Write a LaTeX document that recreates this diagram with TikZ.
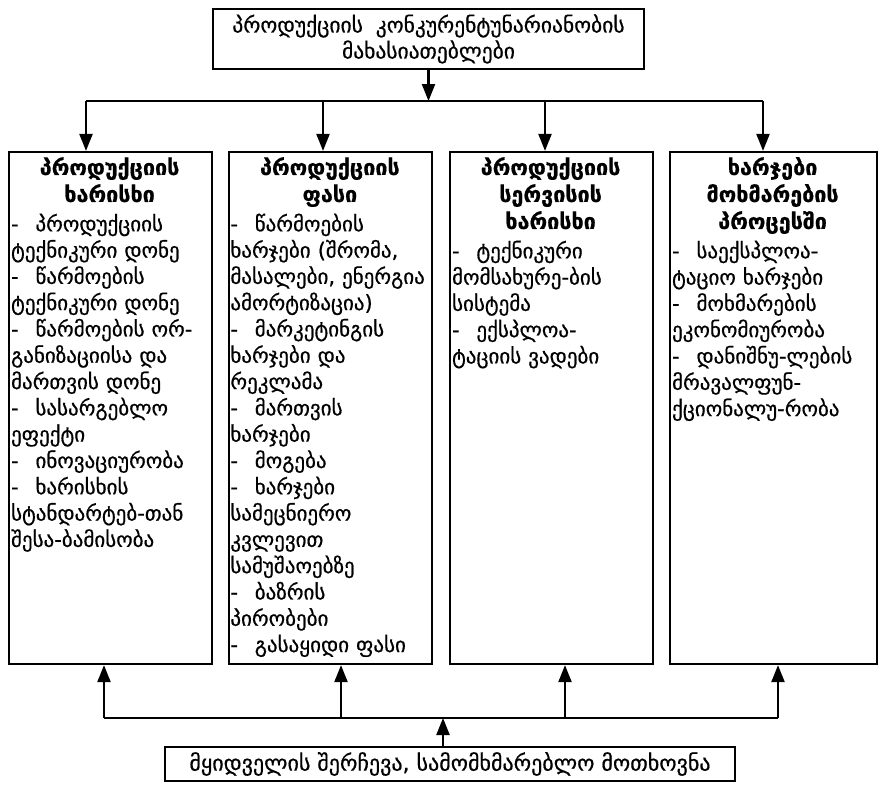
\documentclass[tikz,border=0pt]{standalone}
\usepackage{fontspec}
\setmainfont{DejaVu Sans}[FakeBold=0.6]
\usetikzlibrary{arrows.meta}
% a list entry: dash followed by a wide gap
\newcommand\dashitem{-\hspace{0.8em}}
% bold column heading, centred over the first part of the text block
\newcommand\colhead[2]{{\leftskip=0pt plus 1fil \rightskip=#1 plus 1fil
  \parfillskip=0pt \fontsize{21.5}{27}\selectfont\bfseries #2\par}\vspace{3pt}}
\begin{document}
\begin{tikzpicture}[x=1pt,y=-1pt,
  frame/.style={draw, line width=2.2pt, inner sep=0pt},
  colbox/.style={frame, minimum width=203pt, minimum height=512pt},
  body/.style={anchor=north west, inner sep=0pt, text width=220pt,
    font=\fontsize{21}{26.3}\selectfont},
  link/.style={line width=2.2pt},
  arr/.style={link, -{Triangle[length=17pt,width=13pt]}}]
\useasboundingbox (0,0) rectangle (884,785);

% title box
\node[frame, minimum width=431pt, minimum height=60pt, align=center,
  font=\fontsize{21.5}{26}\selectfont] (top) at (428.5,39)
  {პროდუქციის\hspace{0.6em}კონკურენტუნარიანობის\\მახასიათებლები};

% four column frames
\node[colbox] (b1) at (110.5,408) {};
\node[colbox] (b2) at (330.8,408) {};
\node[colbox] (b3) at (551.5,408) {};
\node[colbox, minimum width=207pt] (b4) at (773.5,408) {};

% column texts
\node[body] (t1txt) at ([xshift=3pt,yshift=-6pt]b1.north west) {\raggedright
\colhead{23pt}{პროდუქციის\\ხარისხი}
\dashitem პროდუქციის\\
ტექნიკური დონე\\
\dashitem წარმოების\\
ტექნიკური დონე\\
\dashitem წარმოების ორ-\\
განიზაციისა და\\
მართვის დონე\\
\dashitem სასარგებლო\\
ეფექტი\\
\dashitem ინოვაციურობა\\
\dashitem ხარისხის\\
სტანდარტებ-თან\\
შესა-ბამისობა};

\node[body] (t2txt) at ([xshift=2pt,yshift=-6pt]b2.north west) {\raggedright
\colhead{21pt}{პროდუქციის\\ფასი}
\dashitem წარმოების\\
ხარჯები (შრომა,\\
მასალები, ენერგია\\
ამორტიზაცია)\\
\dashitem მარკეტინგის\\
ხარჯები და\\
რეკლამა\\
\dashitem მართვის\\
ხარჯები\\
\dashitem მოგება\\
\dashitem ხარჯები\\
სამეცნიერო\\
კვლევით\\
სამუშაოებზე\\
\dashitem ბაზრის\\
პირობები\\
\dashitem გასაყიდი ფასი};

\node[body] (t3txt) at ([xshift=3pt,yshift=-6pt]b3.north west) {\raggedright
\colhead{23pt}{პროდუქციის\\სერვისის\\ხარისხი}
\dashitem ტექნიკური\\
მომსახურე-ბის\\
სისტემა\\
\dashitem ექსპლოა-\\
ტაციის ვადები};

\node[body] (t4txt) at ([xshift=3pt,yshift=-6pt]b4.north west) {\raggedright
\colhead{19pt}{ხარჯები\\მოხმარების\\პროცესში}
\dashitem საექსპლოა-\\
ტაციო ხარჯები\\
\dashitem მოხმარების\\
ეკონომიურობა\\
\dashitem დანიშნუ-ლების\\
მრავალფუნ-\\
ქციონალუ-რობა};

% bottom box
\node[frame, minimum width=570pt, minimum height=34pt,
  font=\fontsize{22}{25}\selectfont] (bot) at (450,764)
  {მყიდველის შერჩევა, სამომხმარებლო მოთხოვნა};

% distribution from the title
\coordinate (hub) at (428.5,101);
\coordinate (d1) at (86,101);
\coordinate (d2) at (323,101);
\coordinate (d3) at (545,101);
\coordinate (d4) at (763,101);
\draw[arr] (top.south) -- (hub);
\draw[link] (d1) -- (d4);
\foreach \i in {1,...,4} \draw[arr] (d\i) -- (d\i |- b\i.north);

% collection towards the columns from below
\coordinate (hubB) at (443,718);
\coordinate (u1) at (104,718);
\coordinate (u2) at (341,718);
\coordinate (u3) at (565,718);
\coordinate (u4) at (778,718);
\draw[arr] (bot.north -| hubB) -- (hubB);
\draw[link] (u1) -- (u4);
\foreach \i in {1,...,4} \draw[arr] (u\i) -- (u\i |- b\i.south);
\end{tikzpicture}
\end{document}
